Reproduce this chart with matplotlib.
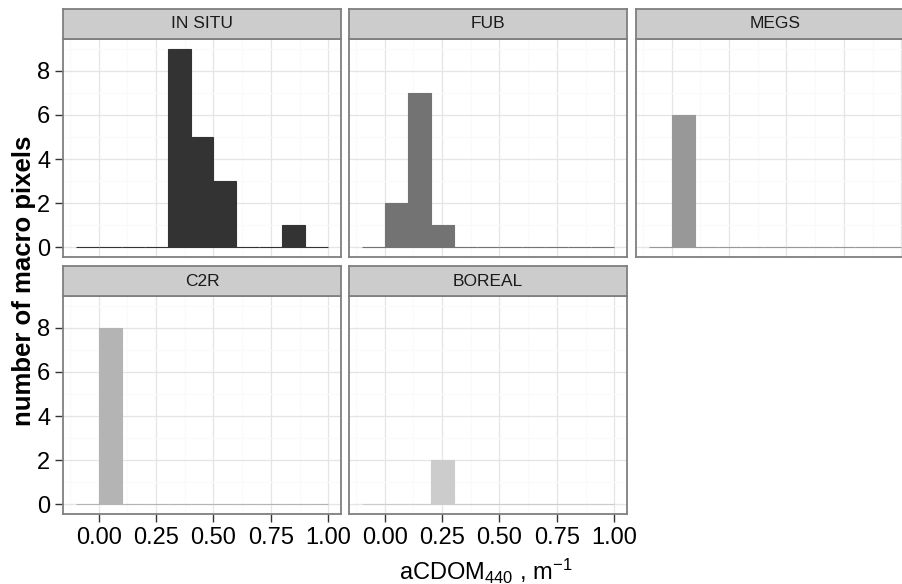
import matplotlib
matplotlib.use("Agg")
import matplotlib.pyplot as plt
import numpy as np

plt.rcParams['font.family'] = ['Liberation Sans', 'DejaVu Sans']
plt.rcParams['mathtext.fontset'] = 'custom'
plt.rcParams['mathtext.rm'] = 'Liberation Sans'
plt.rcParams['mathtext.default'] = 'regular'

# ---- data ----
bin_edges = [-0.1, 0.0, 0.1, 0.2, 0.3, 0.4, 0.5, 0.6, 0.7, 0.8, 0.9, 1.0]
panels = ["IN SITU", "FUB", "MEGS", "C2R", "BOREAL"]
counts_insitu = [0, 0, 0, 0, 9, 5, 3, 0, 0, 1, 0]
counts_fub = [0, 2, 7, 1, 0, 0, 0, 0, 0, 0, 0]
counts_megs = [0, 6, 0, 0, 0, 0, 0, 0, 0, 0, 0]
counts_c2r = [0, 8, 0, 0, 0, 0, 0, 0, 0, 0, 0]
counts_boreal = [0, 0, 0, 2, 0, 0, 0, 0, 0, 0, 0]
colors = ["#333333", "#737373", "#989898", "#b4b4b4", "#cccccc"]
x_ticks = [0.0, 0.25, 0.5, 0.75, 1.0]
x_ticklabels = ["0.00", "0.25", "0.50", "0.75", "1.00"]
y_ticks = [0, 2, 4, 6, 8]
all_counts = [counts_insitu, counts_fub, counts_megs, counts_c2r, counts_boreal]

W, H = 903, 584
fig = plt.figure(figsize=(W / 100, H / 100), dpi=100)


def px_axes(left, top, right, bottom, **kw):
    return fig.add_axes([left / W, 1 - bottom / H, (right - left) / W, (bottom - top) / H], **kw)


col_left = [63, 349, 636]
col_w = 278
row_strip_top = [9, 266]
row_strip_bot = [39, 296]
row_bot = [257, 514]

xmin, xmax = -0.155, 1.055
ymin, ymax = -0.45, 9.45
border = "#7f7f7f"

edges = np.array(bin_edges)
widths = np.diff(edges)
lefts = edges[:-1]

for i, name in enumerate(panels):
    r, c = divmod(i, 3)
    L = col_left[c]
    R = L + col_w
    ax = px_axes(L, row_strip_bot[r], R, row_bot[r])
    ax.set_xlim(xmin, xmax)
    ax.set_ylim(ymin, ymax)
    ax.set_xticks(x_ticks)
    ax.set_xticklabels(x_ticklabels)
    ax.set_yticks(y_ticks)
    ax.set_xticks([-0.125, 0.125, 0.375, 0.625, 0.875], minor=True)
    ax.set_yticks([1, 3, 5, 7, 9], minor=True)
    ax.grid(which='minor', color='#fafafa', linewidth=0.9)
    ax.grid(which='major', color='#e5e5e5', linewidth=0.9)
    ax.set_axisbelow(True)
    ax.bar(lefts, all_counts[i], width=widths, align='edge',
           color=colors[i], edgecolor=colors[i], linewidth=0.8, zorder=3)
    for s in ax.spines.values():
        s.set_color(border)
        s.set_linewidth(1.3)
        s.set_zorder(5)
    ax.tick_params(which='minor', length=0)
    ax.tick_params(which='major', length=5.5, width=1.0, color='#333333',
                   labelsize=17, pad=3.5, labelcolor='black')
    if c != 0:
        ax.tick_params(left=False, labelleft=False)
    if r == 0:
        ax.tick_params(bottom=False, labelbottom=False)

    sax = px_axes(L, row_strip_top[r], R, row_strip_bot[r])
    sax.set_facecolor('#cccccc')
    sax.set_xticks([])
    sax.set_yticks([])
    for s in sax.spines.values():
        s.set_color(border)
        s.set_linewidth(1.3)
    sax.text(0.5, 0.5, name, ha='center', va='center', fontsize=12.5,
             transform=sax.transAxes, color='#1a1a1a')

fig.text(486 / W, 1 - 571 / H, r'aCDOM$_{440}$ , m$^{-1}$', ha='center', va='center', fontsize=17)
fig.text(24 / W, 1 - 281 / H, 'number of macro pixels', ha='center', va='center',
         fontsize=18.5, fontweight='bold', rotation=90)

fig.savefig('out.png', dpi=100)
